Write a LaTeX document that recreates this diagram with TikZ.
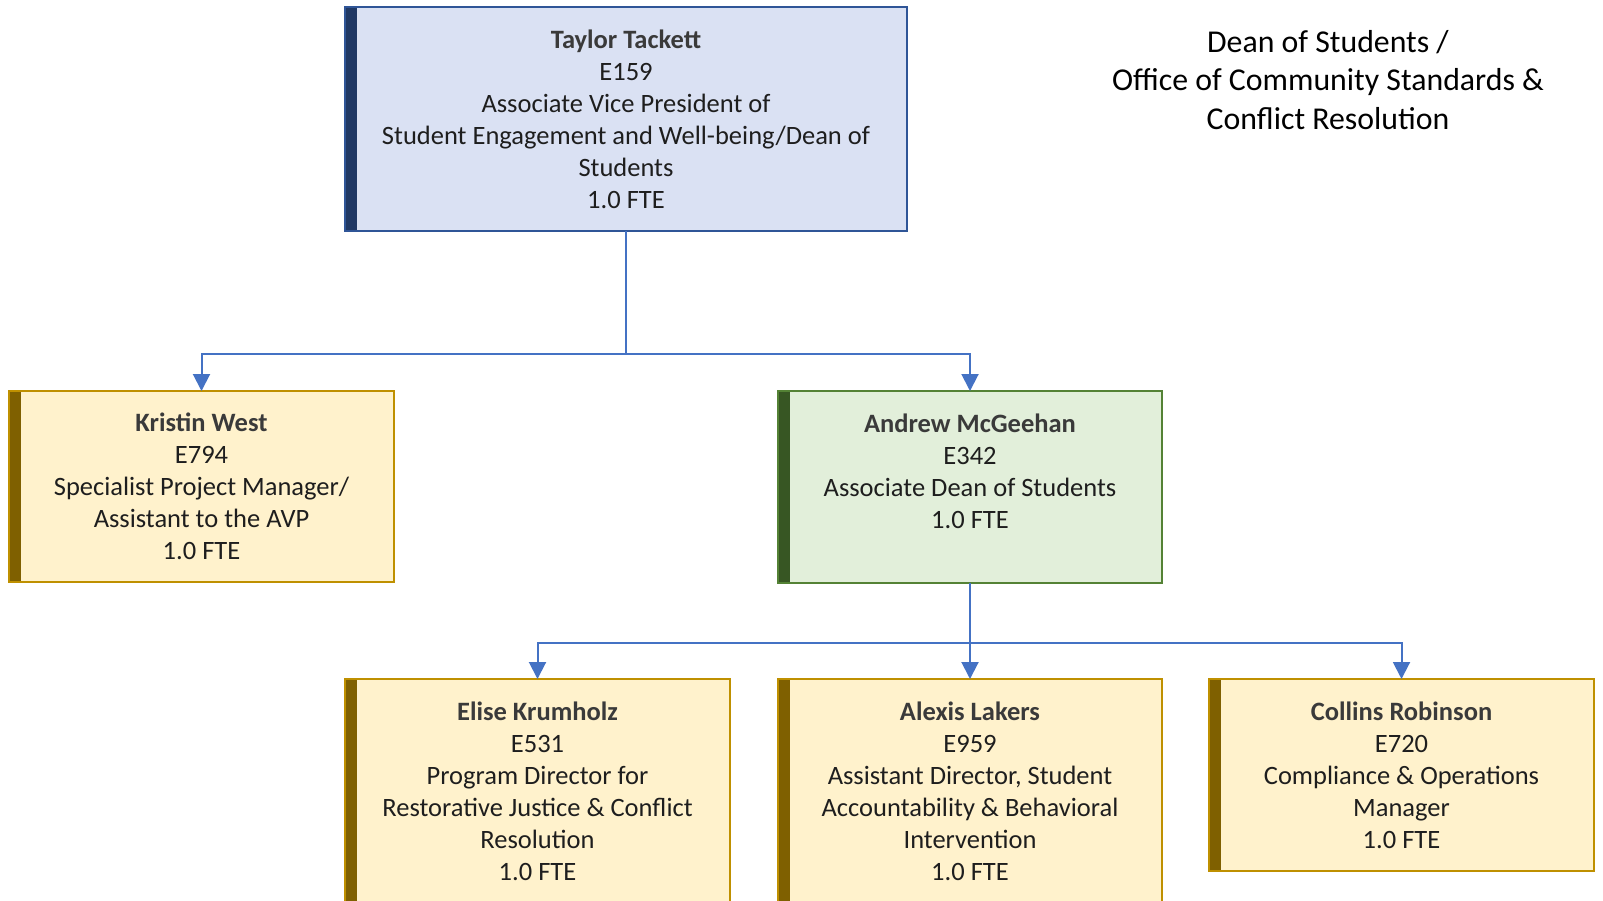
\documentclass[tikz,border=0pt]{standalone}
\usepackage{fontspec}
\setmainfont{Carlito}
\usetikzlibrary{arrows.meta}
\definecolor{bluefill}{HTML}{DAE1F3}
\definecolor{blueline}{HTML}{2F5597}
\definecolor{bluebar}{HTML}{203864}
\definecolor{yelfill}{HTML}{FFF2CC}
\definecolor{yelline}{HTML}{BF9000}
\definecolor{yelbar}{HTML}{7F6000}
\definecolor{grnfill}{HTML}{E2EFDA}
\definecolor{grnline}{HTML}{548235}
\definecolor{grnbar}{HTML}{375623}
\definecolor{conncol}{HTML}{4472C4}
\definecolor{namecol}{HTML}{3A3A3A}
\definecolor{bodycol}{HTML}{1E1E1E}
\newcommand{\nm}[1]{\textcolor{namecol}{\textbf{#1}}}
\begin{document}
\begin{tikzpicture}[x=1pt,y=-1pt,
  card/.style n args={3}{fill=#1, draw=#2, line width=2pt, align=center,
    inner sep=0pt, outer sep=0pt, text=bodycol,
    font=\fontsize{26.5}{32}\selectfont,
    path picture={\fill[#3] (path picture bounding box.south west) rectangle ([xshift=12pt]path picture bounding box.north west);}},
  bluecard/.style={card={bluefill}{blueline}{bluebar}},
  yelcard/.style={card={yelfill}{yelline}{yelbar}},
  grncard/.style={card={grnfill}{grnline}{grnbar}},
  conn/.style={draw=conncol, line width=2pt, -{Triangle[width=17pt,length=17pt]}},
  connplain/.style={draw=conncol, line width=2pt}]
\useasboundingbox (0,0) rectangle (1603,900);
\fill[white] (0,0) rectangle (1603,900);

\node[bluecard, minimum width=562pt, minimum height=224pt] (tt) at (626,119)
  {\nm{Taylor Tackett}\\E159\\Associate Vice President of\\Student Engagement and Well-being/Dean of\\Students\\1.0 FTE};

\node[yelcard, minimum width=385pt, minimum height=191pt] (kw) at (201.5,486.5)
  {\nm{Kristin West}\\E794\\Specialist Project Manager/\\Assistant to the AVP\\1.0 FTE};

\node[grncard, minimum width=384pt, minimum height=192pt] (am) at (970,487)
  {\nm{Andrew McGeehan}\\E342\\Associate Dean of Students\\1.0 FTE\\\mbox{}};

\node[yelcard, minimum width=385pt, minimum height=224pt] (ek) at (537.5,791)
  {\nm{Elise Krumholz}\\E531\\Program Director for\\Restorative Justice \& Conflict\\Resolution\\1.0 FTE};

\node[yelcard, minimum width=384pt, minimum height=224pt] (al) at (970,791)
  {\nm{Alexis Lakers}\\E959\\Assistant Director, Student\\Accountability \& Behavioral\\Intervention\\1.0 FTE};

\node[yelcard, minimum width=385pt, minimum height=192pt] (cr) at (1401.5,775)
  {\nm{Collins Robinson}\\E720\\Compliance \& Operations\\Manager\\1.0 FTE};

\node[align=center, font=\fontsize{31.8}{38.5}\selectfont, text=black] (title) at (1328,80)
  {Dean of Students /\\Office of Community Standards \&\\Conflict Resolution};

\coordinate (j1) at (626,354);
\coordinate (j2) at (970,643);
\draw[connplain] (tt.south) -- (j1);
\draw[conn] (j1) -| (kw.north);
\draw[conn] (j1) -| (am.north);
\draw[connplain] (am.south) -- (j2);
\draw[conn] (j2) -| (ek.north);
\draw[conn] (j2) -- (al.north);
\draw[conn] (j2) -| (cr.north);
\end{tikzpicture}
\end{document}
